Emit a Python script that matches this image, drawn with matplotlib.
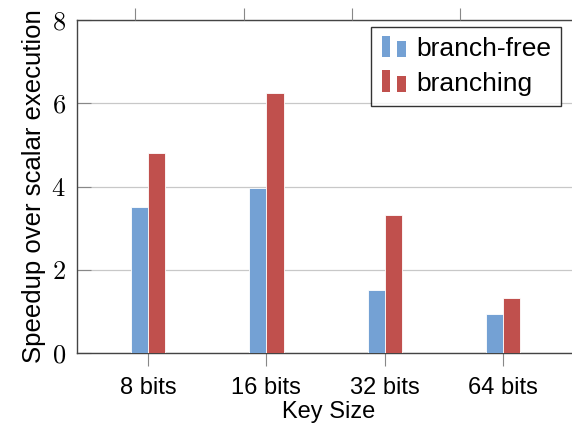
import matplotlib
matplotlib.use('Agg')
import matplotlib.pyplot as plt
from matplotlib.legend_handler import HandlerBase
from matplotlib.container import BarContainer
from matplotlib.patches import Rectangle
import numpy as np

plt.rcParams['font.family'] = ['Liberation Sans', 'DejaVu Sans']
plt.rcParams['mathtext.fontset'] = 'cm'

# data
key_sizes = ['8 bits', '16 bits', '32 bits', '64 bits']
branch_free = [3.51, 3.96, 1.51, 0.93]
branching = [4.80, 6.25, 3.32, 1.32]

blue = '#74a1d4'
red = '#c0504d'


class TwoBarHandler(HandlerBase):
    # pgfplots-style legend image: two small bars
    def create_artists(self, legend, orig_handle, xdescent, ydescent,
                       width, height, fontsize, trans):
        c = orig_handle.patches[0].get_facecolor()
        w = width * 0.3
        r1 = Rectangle((-xdescent, -ydescent - 0.05 * height), w, height * 1.15,
                       facecolor=c, edgecolor='none', transform=trans)
        r2 = Rectangle((-xdescent + width * 0.55, -ydescent - 0.05 * height), w, height * 0.85,
                       facecolor=c, edgecolor='none', transform=trans)
        return [r1, r2]


fig = plt.figure(figsize=(5.72, 4.28), dpi=100)
ax = fig.add_axes([77 / 572, 75 / 428, 503 / 572, 333 / 428])

x = np.arange(len(key_sizes))
w = 0.145
b1 = ax.bar(x - w / 2, branch_free, w, color=blue, edgecolor='white', linewidth=0.6,
            label='branch-free', zorder=3)
b2 = ax.bar(x + w / 2, branching, w, color=red, edgecolor='white', linewidth=0.6,
            label='branching', zorder=3)

ax.set_xlim(-0.6, 3.65)
ax.set_ylim(0, 8)
ax.set_yticks([0, 2, 4, 6, 8])
ax.set_yticklabels(['$%d$' % v for v in [0, 2, 4, 6, 8]], fontsize=19)
ax.set_xticks(x)
ax.set_xticklabels(key_sizes, fontsize=17)
ax.tick_params(axis='x', direction='out', length=9, color='#888888', pad=8)
ax.tick_params(axis='y', direction='in', length=10, color='#888888', pad=8)
ax.grid(axis='y', color='#c8c8c8', linewidth=0.9, zorder=0)

for s in ['left', 'bottom', 'top']:
    ax.spines[s].set_color('#444444')
    ax.spines[s].set_linewidth(1.0)
ax.spines['right'].set_visible(False)

# extra ticks along the top edge
top = ax.twiny()
top.set_xlim(ax.get_xlim())
top.set_xticks([-0.11, 0.81, 1.72, 2.64])
top.set_xticklabels([])
top.tick_params(axis='x', direction='out', length=9, color='#888888')
for s in top.spines.values():
    s.set_visible(False)

ax.set_xlabel('Key Size', fontsize=17, labelpad=2)
ax.set_ylabel('Speedup over scalar execution', fontsize=18.5, labelpad=4)

leg = top.legend(handles=[b1, b2], loc='upper right', bbox_to_anchor=(0.963, 0.98),
                 fontsize=19, frameon=True, fancybox=False, edgecolor='black',
                 handler_map={BarContainer: TwoBarHandler()},
                 handlelength=1.1, handletextpad=0.2, borderpad=0.4, labelspacing=0.4,
                 borderaxespad=0)
leg.get_frame().set_linewidth(1.0)

fig.savefig('out.png', dpi=100)
